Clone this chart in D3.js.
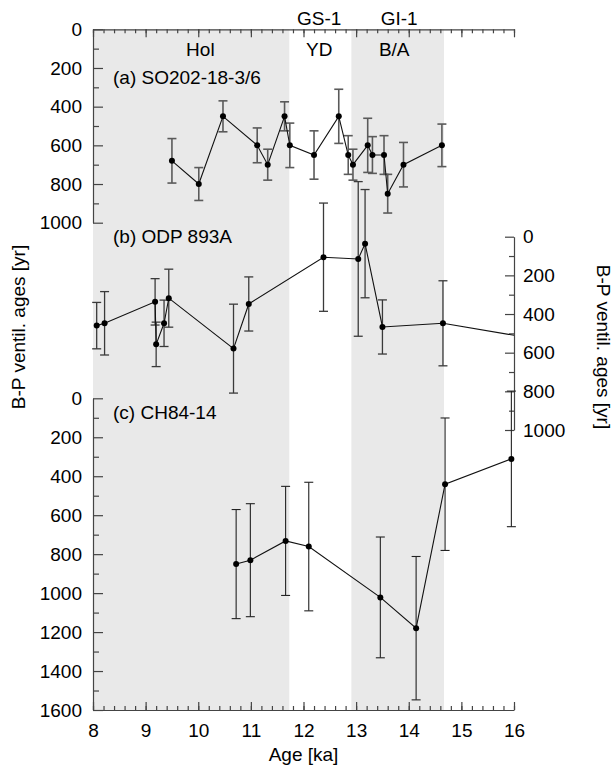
<!DOCTYPE html>
<html>
<head>
<meta charset="utf-8">
<script src="https://cdnjs.cloudflare.com/ajax/libs/d3/7.8.5/d3.min.js"></script>
<style>
  body { margin: 0; background: #fff; }
  svg text { font-family: "Liberation Sans", Arial, sans-serif; fill: #000; }
</style>
</head>
<body>
<div id="chart"></div>
<script>
// stadials / interstadials shaded
var bandNames = ['Hol', 'B/A'];
var bandStart = [8, 12.91];
var bandEnd = [11.73, 14.67];

// (a) SO202-18-3/6
var ageA = [9.5, 10.01, 10.47, 11.12, 11.32, 11.64, 11.74, 12.2, 12.67, 12.85, 12.94, 13.22, 13.31, 13.53, 13.6, 13.9, 14.63];
var bpA  = [680, 800, 450, 600, 700, 450, 600, 650, 450, 650, 700, 600, 650, 650, 850, 700, 600];
var errA = [115, 85, 80, 90, 80, 75, 115, 125, 140, 100, 80, 140, 95, 100, 100, 115, 110];

// (b) ODP 893A
var ageB = [8.07, 8.22, 9.18, 9.2, 9.35, 9.44, 10.67, 10.96, 12.38, 13.04, 13.17, 13.5, 14.65, 16.0];
var bpB  = [460, 448, 337, 557, 448, 318, 579, 348, 106, 115, 36, 467, 448, 510];
var errB = [120, 164, 120, 115, 120, 150, 230, 140, 280, 400, 280, 140, 220, null];

// (c) CH84-14
var ageC = [10.72, 10.99, 11.66, 12.1, 13.46, 14.14, 14.69, 15.95];
var bpC  = [851, 831, 732, 761, 1022, 1180, 441, 311];
var errC = [280, 290, 280, 330, 310, 368, 340, 348];

var xTicks = [8, 9, 10, 11, 12, 13, 14, 15, 16];

var width = 614, height = 767;
var svg = d3.select('#chart').append('svg')
  .attr('width', width)
  .attr('height', height);

var x = d3.scaleLinear().domain([8, 16]).range([93, 514]);
var yTop = 29.3, yBot = 710;
var yA = d3.scaleLinear().domain([0, 1000]).range([29.3, 222.7]);
var yB = d3.scaleLinear().domain([0, 1000]).range([236.7, 430]);
var yC = d3.scaleLinear().domain([0, 1600]).range([398.3, 710]);

var axisCol = '#444';
var fmt = d3.format('d');

// grey bands
svg.selectAll('rect.band')
  .data(bandStart)
  .enter().append('rect')
  .attr('class', 'band')
  .attr('x', function(d) { return x(d); })
  .attr('y', yTop)
  .attr('width', function(d, i) { return x(bandEnd[i]) - x(d); })
  .attr('height', yBot - yTop)
  .style('fill', '#e9e9e9');

// top & bottom age axes, ticks pointing inward
var minor = d3.range(8, 16.001, 0.2);
svg.append('g')
  .attr('transform', 'translate(0,' + yTop + ')')
  .call(d3.axisBottom(x).tickValues(minor).tickSize(4).tickFormat(''))
  .call(function(g) { g.select('.domain').remove(); });
svg.append('g')
  .attr('transform', 'translate(0,' + yTop + ')')
  .call(d3.axisBottom(x).tickValues(xTicks).tickSize(8).tickSizeOuter(0).tickFormat(''));
svg.append('g')
  .attr('transform', 'translate(0,' + yBot + ')')
  .call(d3.axisTop(x).tickValues(minor).tickSize(4).tickFormat(''))
  .call(function(g) { g.select('.domain').remove(); });
var bx = svg.append('g')
  .attr('transform', 'translate(0,' + yBot + ')')
  .call(d3.axisTop(x).tickValues(xTicks).tickSize(8).tickSizeOuter(0).tickPadding(-35).tickFormat(fmt));
bx.selectAll('text').style('font-size', '19px');

// left axis (a) and (c), ticks inward
function leftAxis(y, maxV) {
  var g1 = svg.append('g').attr('transform', 'translate(93,0)')
    .call(d3.axisRight(y).tickValues(d3.range(100, maxV, 200)).tickSize(6).tickFormat(''));
  g1.select('.domain').remove();
  var g2 = svg.append('g').attr('transform', 'translate(93,0)')
    .call(d3.axisRight(y).tickValues(d3.range(0, maxV + 1, 200)).tickSize(10).tickSizeOuter(0).tickPadding(-21).tickFormat(fmt));
  g2.selectAll('text').attr('text-anchor', 'end').style('font-size', '19px');
}
leftAxis(yA, 1000);
leftAxis(yC, 1600);

// right axis (b)
var r1 = svg.append('g').attr('transform', 'translate(514,0)')
  .call(d3.axisLeft(yB).tickValues(d3.range(100, 1000, 200)).tickSize(5).tickFormat(''));
r1.select('.domain').remove();
var r2 = svg.append('g').attr('transform', 'translate(514,0)')
  .call(d3.axisLeft(yB).tickValues(d3.range(0, 1001, 200)).tickSize(9).tickSizeOuter(0).tickPadding(-18).tickFormat(fmt));
r2.selectAll('text').attr('text-anchor', 'start').style('font-size', '19px');

svg.selectAll('.domain, .tick line').style('stroke', axisCol).style('stroke-width', 1.2);

// series
function series(ages, vals, errs, y, errCol, errW) {
  var pts = ages.map(function(a, i) { return { a: a, v: vals[i], e: errs[i] }; });
  var withErr = pts.filter(function(p) { return p.e !== null; });
  var g = svg.append('g');
  g.selectAll('line.eb').data(withErr).enter().append('line')
    .attr('x1', function(d) { return x(d.a); })
    .attr('x2', function(d) { return x(d.a); })
    .attr('y1', function(d) { return y(d.v - d.e); })
    .attr('y2', function(d) { return y(d.v + d.e); })
    .style('stroke', errCol).style('stroke-width', errW);
  [-1, 1].forEach(function(s) {
    g.selectAll('line.cap' + s).data(withErr).enter().append('line')
      .attr('x1', function(d) { return x(d.a) - 4.5; })
      .attr('x2', function(d) { return x(d.a) + 4.5; })
      .attr('y1', function(d) { return y(d.v + s * d.e); })
      .attr('y2', function(d) { return y(d.v + s * d.e); })
      .style('stroke', errCol).style('stroke-width', errW);
  });
  var line = d3.line()
    .x(function(d) { return x(d.a); })
    .y(function(d) { return y(d.v); });
  g.append('path').datum(pts)
    .attr('d', line)
    .style('fill', 'none').style('stroke', '#111').style('stroke-width', 1.1);
  g.selectAll('circle').data(withErr).enter().append('circle')
    .attr('cx', function(d) { return x(d.a); })
    .attr('cy', function(d) { return y(d.v); })
    .attr('r', 3)
    .style('fill', '#000');
}
series(ageA, bpA, errA, yA, '#5a5a5a', 1.6);
series(ageB, bpB, errB, yB, '#3a3a3a', 1.3);
series(ageC, bpC, errC, yC, '#222', 1.1);

// text labels
function label(txt, px, py, anchor) {
  svg.append('text').attr('x', px).attr('y', py)
    .attr('text-anchor', anchor || 'start')
    .style('font-size', '19px').text(txt);
}
label('GS-1', x(12.3), 25, 'middle');
label('GI-1', x(13.8) + 1, 25, 'middle');
label('Hol', x(9.85) + 10, 56, 'middle');
label('YD', x(12.3), 56, 'middle');
label('B/A', x(13.8) - 4, 56, 'middle');
label('(a) SO202-18-3/6', 113, 84);
label('(b) ODP 893A', 113, 243);
label('(c) CH84-14', 113, 419);
label('Age [ka]', x(12), 761, 'middle');

svg.append('text')
  .attr('transform', 'translate(18,327) rotate(-90)')
  .attr('text-anchor', 'middle').attr('dominant-baseline', 'central')
  .style('font-size', '19px').text('B-P ventil. ages [yr]');
svg.append('text')
  .attr('transform', 'translate(603,347) rotate(90)')
  .attr('text-anchor', 'middle').attr('dominant-baseline', 'central')
  .style('font-size', '19px').text('B-P ventil. ages [yr]');
</script>
</body>
</html>
